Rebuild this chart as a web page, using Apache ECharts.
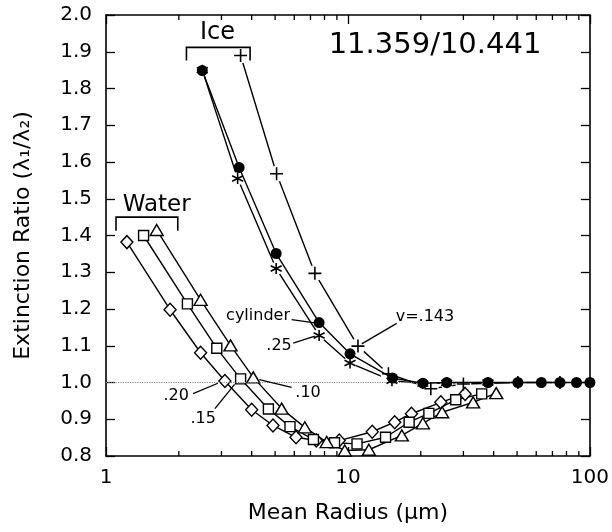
<!DOCTYPE html>
<html>
<head>
<meta charset="utf-8">
<script src="https://cdn.jsdelivr.net/npm/echarts@6/dist/echarts.min.js"></script>
<style>html,body{margin:0;padding:0;background:#fff}#chart{width:612px;height:532px}</style>
</head>
<body>
<div id="chart"></div>
<script>
// Ice: cylinder (filled circles), v=.25 (asterisk), v=.143 (plus)
var cylR = [2.5, 3.55, 5.05, 7.6, 10.2, 15.3, 20.4, 25.6, 37.9, 50.4, 63, 75.2, 88, 100];
var cylV = [1.849, 1.585, 1.351, 1.163, 1.078, 1.012, 0.998, 1.0, 1.0, 1.0, 1.0, 1.0, 1.0, 1.0];
var astR = [2.5, 3.5, 5.05, 7.6, 10.2, 15.2, 20.4, 25.6, 37.9];
var astV = [1.85, 1.555, 1.31, 1.128, 1.053, 1.005, 0.997, 0.999, 1.0];
var plusR = [3.6, 5.07, 7.3, 11.0, 14.7, 22, 30, 50.4, 75.2];
var plusV = [1.89, 1.568, 1.297, 1.099, 1.024, 0.983, 0.996, 1.0, 1.0];
// Water: v=.20 (diamond), v=.15 (square), v=.10 (triangle)
var diaR = [1.22, 1.84, 2.46, 3.1, 4.0, 4.9, 6.1, 7.4, 9.2, 12.6, 15.6, 18.3, 24.2, 30.5];
var diaV = [1.382, 1.198, 1.081, 1.004, 0.926, 0.883, 0.851, 0.842, 0.842, 0.866, 0.892, 0.915, 0.946, 0.969];
var sqR = [1.43, 2.17, 2.87, 3.6, 4.69, 5.76, 7.2, 8.8, 10.9, 14.3, 17.9, 21.6, 27.9, 35.7];
var sqV = [1.40, 1.214, 1.093, 1.010, 0.928, 0.880, 0.845, 0.836, 0.833, 0.851, 0.892, 0.916, 0.953, 0.969];
var triR = [1.62, 2.46, 3.27, 4.06, 5.32, 6.63, 8.17, 9.7, 12.2, 16.7, 20.4, 24.5, 32.9, 41];
var triV = [1.415, 1.225, 1.101, 1.014, 0.929, 0.878, 0.838, 0.815, 0.817, 0.856, 0.889, 0.919, 0.946, 0.971];
// log minor ticks
var minorTicks = [2, 3, 4, 5, 6, 7, 8, 9, 20, 30, 40, 50, 60, 70, 80, 90];

var FONT = 'DejaVu Sans';
var chart = echarts.init(document.getElementById('chart'));

function pairs(xs, ys) {
  return xs.map(function (x, i) { return [x, ys[i]]; });
}

var axisLine = {lineStyle: {color: '#000', width: 1.6}};
var tick = {inside: true, length: 9, lineStyle: {color: '#000', width: 1.3}};
var lineStyle = {color: '#000', width: 1.4};
var openItem = {color: '#fff', borderColor: '#000', borderWidth: 1.4, opacity: 1};
var strokeItem = {color: 'none', borderColor: '#000', borderWidth: 1.6, opacity: 1};
var asterisk = 'path://M0,-5L0,5M-4.33,-2.5L4.33,2.5M-4.33,2.5L4.33,-2.5';
var plus = 'path://M0,-5L0,5M-5,0L5,0';

var option = {
  animation: false,
  backgroundColor: '#fff',
  grid: {left: 106, right: 22, top: 15, bottom: 76},
  xAxis: [
    {
      type: 'log', logBase: 10, min: 1, max: 100, position: 'bottom',
      axisLine: axisLine, axisTick: tick, splitLine: {show: false},
      axisLabel: {color: '#000', fontFamily: FONT, fontSize: 20, margin: 12,
        formatter: function (v) { return String(Math.round(v)); }},
      name: 'Mean Radius (μm)', nameLocation: 'middle', nameGap: 46,
      nameTextStyle: {color: '#000', fontFamily: FONT, fontSize: 22}
    },
    {
      type: 'log', logBase: 10, min: 1, max: 100, position: 'top',
      axisLine: axisLine, axisTick: tick, splitLine: {show: false},
      axisLabel: {show: false}
    }
  ],
  yAxis: [
    {
      type: 'value', min: 0.8, max: 2.0, interval: 0.1, position: 'left',
      axisLine: axisLine, axisTick: tick, splitLine: {show: false},
      axisLabel: {color: '#000', fontFamily: FONT, fontSize: 20, margin: 14,
        formatter: function (v) { return v.toFixed(1); }},
      name: 'Extinction Ratio (λ₁/λ₂)', nameLocation: 'middle', nameGap: 72,
      nameTextStyle: {color: '#000', fontFamily: FONT, fontSize: 22}
    },
    {
      type: 'value', min: 0.8, max: 2.0, interval: 0.1, position: 'right',
      axisLine: axisLine, axisTick: tick, splitLine: {show: false},
      axisLabel: {show: false}
    }
  ],
  series: [
    {
      // 1.0 reference line
      type: 'line', data: [], z: 1, silent: true,
      markLine: {
        silent: true, symbol: 'none', label: {show: false},
        lineStyle: {color: '#888', type: 'dotted', width: 1.2},
        data: [{yAxis: 1.0}]
      }
    },
    {
      type: 'line', data: pairs(plusR, plusV), symbol: 'none', z: 2,
      lineStyle: lineStyle, silent: true
    },
    {
      type: 'line', data: pairs(astR, astV), symbol: 'none', z: 2,
      lineStyle: lineStyle, silent: true
    },
    {
      // white gaps round the ice markers
      type: 'scatter', data: pairs(plusR, plusV), symbol: 'circle', symbolSize: 16, z: 3,
      itemStyle: {color: '#fff', opacity: 1}, silent: true
    },
    {
      type: 'scatter', data: pairs(astR, astV), symbol: 'circle', symbolSize: 13, z: 3,
      itemStyle: {color: '#fff', opacity: 1}, silent: true
    },
    {
      type: 'scatter', data: pairs(plusR, plusV), symbol: plus, symbolSize: 13, z: 5,
      itemStyle: strokeItem, silent: true
    },
    {
      type: 'scatter', data: pairs(astR, astV), symbol: asterisk, symbolSize: 11, z: 5,
      itemStyle: strokeItem, silent: true
    },
    {
      type: 'line', data: pairs(cylR, cylV), symbol: 'circle', symbolSize: 11, z: 6,
      showAllSymbol: true, lineStyle: lineStyle, itemStyle: {color: '#000', opacity: 1}, silent: true
    },
    {
      type: 'line', data: pairs(diaR, diaV), symbol: 'diamond', symbolSize: [12, 13], z: 4,
      showAllSymbol: true, lineStyle: lineStyle, itemStyle: openItem, silent: true
    },
    {
      type: 'line', data: pairs(sqR, sqV), symbol: 'rect', symbolSize: 10, z: 4,
      showAllSymbol: true, lineStyle: lineStyle, itemStyle: openItem, silent: true
    },
    {
      type: 'line', data: pairs(triR, triV), symbol: 'triangle', symbolSize: [13, 11], z: 4,
      showAllSymbol: true, lineStyle: lineStyle, itemStyle: openItem, silent: true
    },
    {
      // minor log ticks, bottom and top
      type: 'custom', data: minorTicks.map(function (v) { return [v, 0.8]; }),
      encode: {x: 0, y: 1}, silent: true, clip: false, z: 7,
      renderItem: function (params, api) {
        var x = api.value(0);
        var b = api.coord([x, 0.8]);
        var t = api.coord([x, 2.0]);
        var st = {stroke: '#000', lineWidth: 1.3};
        return {type: 'group', children: [
          {type: 'line', shape: {x1: b[0], y1: b[1], x2: b[0], y2: b[1] - 5}, style: st},
          {type: 'line', shape: {x1: t[0], y1: t[1], x2: t[0], y2: t[1] + 5}, style: st}
        ]};
      }
    }
  ]
};

chart.setOption(option);

function px(x, y) { return chart.convertToPixel({gridIndex: 0}, [x, y]); }
function text(str, x, y, size) {
  var p = px(x, y);
  return {type: 'text', x: p[0], y: p[1], z: 100, silent: true,
    style: {text: str, font: size + 'px "' + FONT + '"', fill: '#000',
      align: 'center', verticalAlign: 'middle', textAlign: 'center', textVerticalAlign: 'middle'}};
}
function seg(x1, y1, x2, y2) {
  var a = px(x1, y1), b = px(x2, y2);
  return {type: 'line', z: 100, silent: true,
    shape: {x1: a[0], y1: a[1], x2: b[0], y2: b[1]}, style: {stroke: '#000', lineWidth: 1.3}};
}
function bracket(x1, x2, yTop, yEnd) {
  var a = px(x1, yEnd), b = px(x1, yTop), c = px(x2, yTop), d = px(x2, yEnd);
  return {type: 'polyline', z: 100, silent: true,
    shape: {points: [a, b, c, d]}, style: {stroke: '#000', lineWidth: 1.6, fill: null}};
}

chart.setOption({
  graphic: [
    text('11.359/10.441', 22.9, 1.917, 29),
    text('Ice', 2.89, 1.953, 24),
    bracket(2.15, 3.94, 1.912, 1.876),
    text('Water', 1.62, 1.482, 23),
    bracket(1.10, 1.98, 1.45, 1.413),
    text('cylinder', 4.25, 1.182, 16),
    seg(5.85, 1.171, 7.3, 1.162),
    text('.25', 5.19, 1.10, 16),
    seg(5.94, 1.107, 7.3, 1.126),
    text('v=.143', 20.8, 1.178, 16),
    seg(15.9, 1.161, 11.4, 1.105),
    text('.20', 1.95, 0.965, 16),
    seg(2.29, 0.970, 2.9, 0.998),
    text('.15', 2.52, 0.902, 16),
    seg(2.82, 0.929, 3.4, 0.995),
    text('.10', 6.84, 0.973, 16),
    seg(5.85, 0.987, 4.3, 1.008)
  ]
});
</script>
</body>
</html>
